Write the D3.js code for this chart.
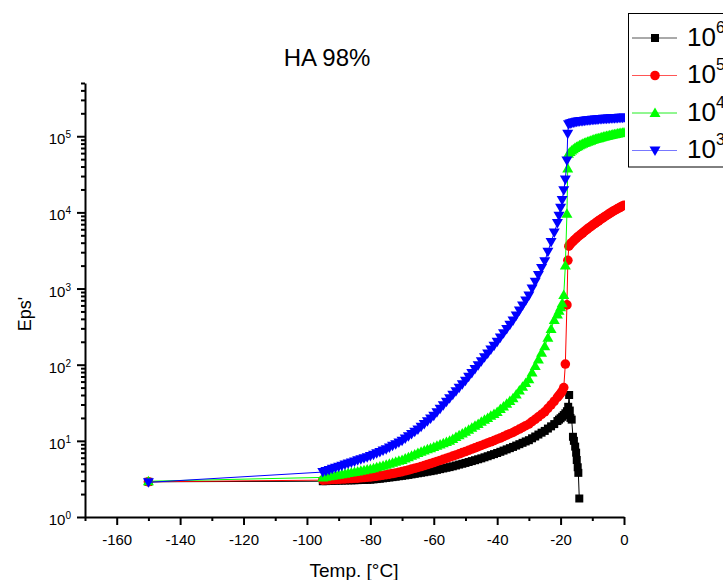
<!DOCTYPE html>
<html>
<head>
<meta charset="utf-8">
<script src="https://cdn.jsdelivr.net/npm/d3@7"></script>
<style>
  body { margin: 0; background: #fff; }
  svg { font-family: "Liberation Sans", Arial, sans-serif; }
  .axis .domain, .axis line { stroke: #000; stroke-width: 2; }
  .axis text { font-size: 15px; fill: #000; font-family: "Liberation Sans", Arial, sans-serif; }
</style>
</head>
<body>
<div id="chart"></div>
<script>
// temperatures of the cooling/heating run, shared by all four frequencies up to -21 C
const tempsMain = [-150,
  -95, -94, -93, -92, -91, -90, -89, -88, -87, -86, -85, -84, -83, -82, -81,
  -80, -79, -78, -77, -76, -75, -74, -73, -72, -71, -70, -69, -68, -67, -66,
  -65, -64, -63, -62, -61, -60, -59, -58, -57, -56, -55, -54, -53, -52, -51,
  -50, -49, -48, -47, -46, -45, -44, -43, -42, -41, -40, -39, -38, -37, -36,
  -35, -34, -33, -32, -31, -30, -29, -28, -27, -26, -25, -24, -23, -22, -21];

const eps1MHz = [2.9,
  2.95, 2.96, 2.98, 2.99, 3.00, 3.01, 3.01, 3.02, 3.03, 3.03, 3.04, 3.05, 3.06, 3.07, 3.08,
  3.09, 3.12, 3.15, 3.18, 3.22, 3.26, 3.30, 3.34, 3.38, 3.43, 3.47, 3.52, 3.57, 3.63, 3.69,
  3.75, 3.81, 3.87, 3.94, 4.00, 4.07, 4.16, 4.25, 4.34, 4.43, 4.52, 4.63, 4.75, 4.88, 5.00,
  5.13, 5.27, 5.42, 5.57, 5.73, 5.89, 6.08, 6.28, 6.49, 6.70, 6.92, 7.18, 7.45, 7.73, 8.02,
  8.32, 8.67, 9.04, 9.42, 9.82, 10.2, 10.8, 11.4, 12.1, 12.8, 13.5, 14.5, 15.5, 16.6, 18.2];
const eps100kHz = [2.9,
  3.05, 3.07, 3.08, 3.10, 3.11, 3.13, 3.15, 3.16, 3.18, 3.20, 3.22, 3.24, 3.27, 3.30, 3.33,
  3.35, 3.40, 3.44, 3.49, 3.54, 3.59, 3.66, 3.72, 3.79, 3.86, 3.94, 4.04, 4.14, 4.25, 4.36,
  4.47, 4.60, 4.74, 4.89, 5.04, 5.19, 5.36, 5.53, 5.71, 5.90, 6.10, 6.31, 6.53, 6.76, 7.00,
  7.24, 7.52, 7.80, 8.09, 8.39, 8.71, 9.04, 9.38, 9.73, 10.1, 10.5, 10.9, 11.4, 11.9, 12.4,
  12.9, 13.6, 14.3, 15.0, 15.8, 16.6, 17.9, 19.2, 20.7, 22.3, 24.0, 26.7, 29.7, 33.1, 37.2];
const eps10kHz = [2.95,
  3.31, 3.37, 3.42, 3.48, 3.53, 3.59, 3.65, 3.71, 3.77, 3.83, 3.89, 3.96, 4.04, 4.11, 4.19,
  4.27, 4.38, 4.49, 4.60, 4.72, 4.84, 4.99, 5.14, 5.30, 5.46, 5.62, 5.86, 6.11, 6.37, 6.64,
  6.92, 7.18, 7.45, 7.73, 8.02, 8.32, 8.63, 8.95, 9.29, 9.64, 10.0, 10.6, 11.2, 11.8, 12.5,
  13.2, 14.0, 14.9, 15.8, 16.7, 17.8, 18.9, 20.0, 21.3, 22.6, 24.0, 26.1, 28.3, 30.8, 33.4,
  36.3, 40.7, 45.7, 51.3, 57.5, 64.6, 78.7, 95.9, 117, 143, 174, 226, 295, 385, 457];
const eps1kHz = [2.85,
  3.89, 4.02, 4.15, 4.29, 4.43, 4.57, 4.72, 4.88, 5.04, 5.20, 5.37, 5.55, 5.73, 5.92, 6.11,
  6.31, 6.58, 6.85, 7.14, 7.45, 7.76, 8.17, 8.59, 9.04, 9.51, 10.0, 10.7, 11.5, 12.3, 13.2,
  14.1, 15.3, 16.7, 18.1, 19.7, 21.4, 23.8, 26.4, 29.4, 32.7, 36.3, 40.4, 44.9, 49.9, 55.5,
  61.7, 69.3, 78.0, 87.7, 98.6, 111, 125, 140, 158, 177, 200, 227, 258, 294, 334,
  380, 443, 515, 600, 698, 813, 1000, 1230, 1510, 1860, 2290, 3050, 4070, 5430, 7240];

// transition region and above, per frequency
const tail1MHzT = [-20.5, -20, -19.5, -19, -18.5, -18, -17.6, -17.3, -17.1, -16.9, -16.5, -16.1, -15.8, -15.4, -15.1, -14.9, -14.6, -14.4, -14.1];
const tail1MHzV = [19.0, 19.8, 20.7, 21.8, 23.0, 24.5, 28, 40, 25, 20, 19, 11.3, 10, 8.4, 7, 5.6, 4.5, 3.8, 1.75];

const tail100kHzT = [-20.5, -20, -19.5, -19, -18.5, -18, -17.7, -17.4,
  -17, -16.5, -16, -15.5, -15, -14.5, -14, -13.5, -13, -12.5, -12, -11.5, -11, -10.5, -10, -9.5,
  -9, -8.5, -8, -7.5, -7, -6.5, -6, -5.5, -5, -4.5, -4, -3.5, -3, -2.5, -2, -1.5, -1, -0.5, 0];
const tail100kHzV = [39.5, 42, 45, 50, 102, 610, 2350, 3600,
  3800, 4000, 4200, 4400, 4600, 4800, 5000, 5200, 5400, 5620, 5840, 6060, 6290, 6520, 6760, 7000,
  7250, 7500, 7760, 8020, 8290, 8560, 8840, 9120, 9410, 9700, 10000, 10300, 10600, 10900, 11200, 11500, 11800, 12100, 12400];

const tail10kHzT = [-20.5, -20, -19.5, -19, -18.5, -18, -17.75, -17.5,
  -17, -16.5, -16, -15.5, -15, -14.5, -14, -13.5, -13, -12.5, -12, -11.5, -11, -10.5, -10, -9.5,
  -9, -8.5, -8, -7.5, -7, -6.5, -6, -5.5, -5, -4.5, -4, -3.5, -3, -2.5, -2, -1.5, -1, -0.5, 0];
const tail10kHzV = [510, 570, 640, 820, 2000, 9600, 37700, 59000,
  62000, 65000, 67500, 70000, 72000, 74000, 76000, 77800, 79500, 81200, 82800, 84400, 86000, 87500, 89000, 90400,
  91800, 93100, 94400, 95700, 97000, 98200, 99400, 100600, 101800, 102900, 104000, 105100, 106200, 107200, 108200, 109200, 110200, 111100, 112000];

const tail1kHzT = [-20.5, -20, -19.5, -19, -18.5, -18, -17.75,
  -17.5, -17, -16.5, -16, -15.5, -15, -14.5, -14, -13.5, -13, -12.5, -12, -11.5, -11, -10.5, -10, -9.5,
  -9, -8.5, -8, -7.5, -7, -6.5, -6, -5.5, -5, -4.5, -4, -3.5, -3, -2.5, -2, -1.5, -1, -0.5, 0];
const tail1kHzV = [9000, 11500, 14500, 19500, 27000, 48000, 108000,
  144000, 147000, 149500, 151500, 153000, 154500, 156000, 157000, 158000, 159000, 160000, 161000, 161800, 162600, 163400, 164200, 165000,
  165700, 166400, 167100, 167800, 168400, 169000, 169600, 170200, 170800, 171300, 171800, 172300, 172800, 173300, 173800, 174300, 174800, 175300, 175800];

const legendExp = ['6', '5', '4', '3'];
const xMajor = [-160, -140, -120, -100, -80, -60, -40, -20, 0];
const xMinor = [-170, -150, -130, -110, -90, -70, -50, -30, -10];
const yMajorExp = [0, 1, 2, 3, 4, 5];

document.addEventListener('DOMContentLoaded', function() {
    const svg = d3.select('#chart').append('svg')
        .attr('width', 723)
        .attr('height', 580);

    const x = d3.scaleLinear().domain([-170, 0]).range([85, 624]);
    const y = d3.scaleLog().domain([1, 5e5]).range([517, 83]);

    function join(t, v, tt, tv) {
        return t.map((d, i) => ({t: d, v: v[i]}))
            .concat(tt.map((d, i) => ({t: d, v: tv[i]})));
    }

    // marker shapes
    const square = 'M-4,-4h8v8h-8z';
    const circle = d3.symbol(d3.symbolCircle, 72)();
    const triUp = 'M0,-5.5L5.5,4L-5.5,4Z';
    const triDown = 'M0,5.5L5.5,-4L-5.5,-4Z';

    const series = [
        {color: '#000000', lineColor: '#000000', legendLine: '#555555', shape: square, data: join(tempsMain, eps1MHz, tail1MHzT, tail1MHzV)},
        {color: '#ff0000', lineColor: '#ff0000', legendLine: '#ff5555', shape: circle, data: join(tempsMain, eps100kHz, tail100kHzT, tail100kHzV)},
        {color: '#00ff00', lineColor: '#00ff00', legendLine: '#22ee22', shape: triUp, data: join(tempsMain, eps10kHz, tail10kHzT, tail10kHzV)},
        {color: '#0000ff', lineColor: '#0000ff', legendLine: '#7777ff', shape: triDown, data: join(tempsMain, eps1kHz, tail1kHzT, tail1kHzV)}
    ];

    svg.append('clipPath').attr('id', 'plotClip')
        .append('rect').attr('x', 0).attr('y', 0).attr('width', 625).attr('height', 580);

    const plot = svg.append('g').attr('clip-path', 'url(#plotClip)');
    const line = d3.line().x(d => x(d.t)).y(d => y(d.v));

    series.forEach(s => {
        const g = plot.append('g');
        g.append('path')
            .attr('d', line(s.data))
            .attr('fill', 'none')
            .attr('stroke', s.lineColor)
            .attr('stroke-width', 1);
        g.selectAll('.pt')
            .data(s.data)
            .enter().append('path')
            .attr('class', 'pt')
            .attr('d', s.shape)
            .attr('fill', s.color)
            .attr('transform', d => `translate(${x(d.t)},${y(d.v)})`);
    });

    // x axis
    svg.append('g').attr('class', 'axis').attr('transform', 'translate(0,517)')
        .call(d3.axisBottom(x).tickValues(xMajor).tickSize(8).tickSizeOuter(0).tickPadding(9)
            .tickFormat(d => String(d)));
    svg.append('g').attr('class', 'axis').attr('transform', 'translate(0,517)')
        .call(d3.axisBottom(x).tickValues(xMinor).tickSize(4).tickSizeOuter(0).tickFormat(''))
        .select('.domain').remove();

    // y axis
    const yMajor = yMajorExp.map(e => Math.pow(10, e));
    const yMinor = y.ticks().filter(v => yMajor.indexOf(v) < 0);
    svg.append('g').attr('class', 'axis').attr('transform', 'translate(85,0)')
        .call(d3.axisLeft(y).tickValues(yMajor).tickSize(8).tickSizeOuter(0).tickFormat(''));
    svg.append('g').attr('class', 'axis').attr('transform', 'translate(85,0)')
        .call(d3.axisLeft(y).tickValues(yMinor).tickSize(4).tickSizeOuter(0).tickFormat(''))
        .select('.domain').remove();

    const yLab = svg.append('g');
    yMajorExp.forEach(e => {
        const t = yLab.append('text')
            .attr('x', 71)
            .attr('y', y(Math.pow(10, e)) + 8)
            .attr('text-anchor', 'end')
            .attr('font-size', 15);
        t.append('tspan').text('10');
        t.append('tspan').attr('font-size', 10).attr('dy', -6).text(e);
    });

    // titles
    svg.append('text')
        .attr('x', 327).attr('y', 66)
        .attr('text-anchor', 'middle')
        .attr('font-size', 24)
        .text('HA 98%');

    svg.append('text')
        .attr('transform', 'translate(31,314) rotate(-90)')
        .attr('text-anchor', 'middle')
        .attr('font-size', 18)
        .text("Eps'");

    svg.append('text')
        .attr('x', 354).attr('y', 577)
        .attr('text-anchor', 'middle')
        .attr('font-size', 19)
        .text('Temp. [°C]');

    // legend
    const legend = svg.append('g');
    legend.append('rect')
        .attr('x', 628.5).attr('y', 13.5)
        .attr('width', 120).attr('height', 153.5)
        .attr('fill', '#fff')
        .attr('stroke', '#000')
        .attr('stroke-width', 1);

    series.forEach((s, i) => {
        const ly = 38 + i * 37.5;
        const row = legend.append('g');
        row.append('line')
            .attr('x1', 632).attr('x2', 677)
            .attr('y1', ly).attr('y2', ly)
            .attr('stroke', s.legendLine)
            .attr('stroke-width', 1);
        row.append('path')
            .attr('d', s.shape)
            .attr('fill', s.color)
            .attr('transform', `translate(655,${ly})`);
        const t = row.append('text')
            .attr('x', 687).attr('y', ly + 7.5)
            .attr('font-size', 26);
        t.append('tspan').text('10');
        t.append('tspan').attr('font-size', 16).attr('dy', -13).text(legendExp[i]);
    });
});
</script>
</body>
</html>
